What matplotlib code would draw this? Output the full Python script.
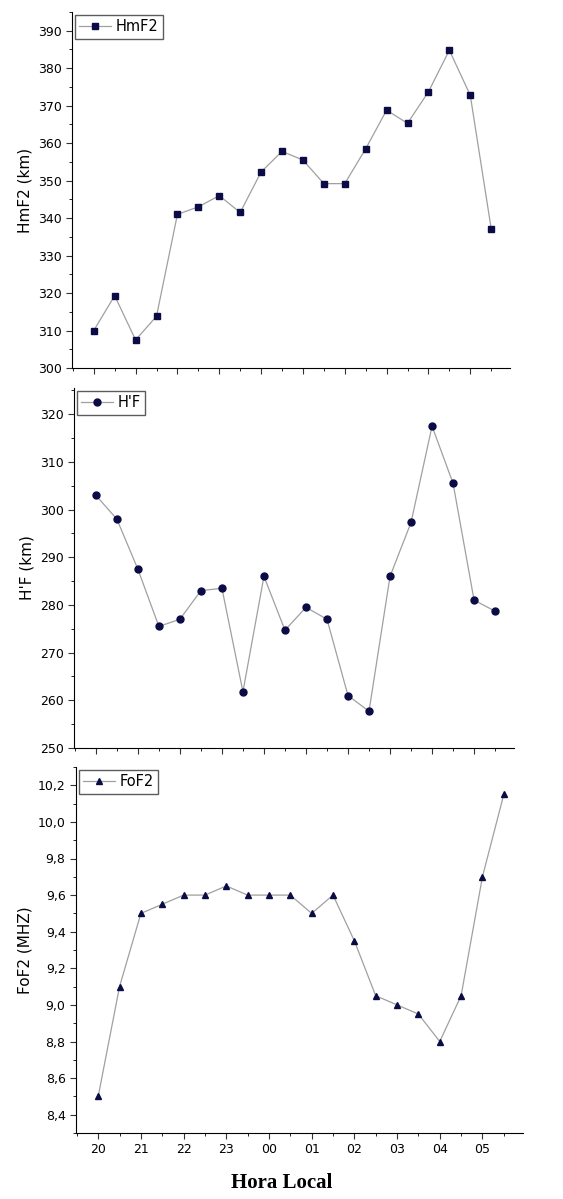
import matplotlib
matplotlib.use("Agg")
import matplotlib.pyplot as plt
from matplotlib.ticker import MultipleLocator, FuncFormatter

# horas locais, de 20h00 a 05h30, a cada meia hora
horas = [20 + 0.5 * i for i in range(20)]
rotulos_horas = ["20", "21", "22", "23", "00", "01", "02", "03", "04", "05"]

hmf2 = [310, 319.3, 307.5, 313.8, 341, 343, 346, 341.5, 352.3, 357.8,
        355.5, 349.2, 349.2, 358.5, 368.8, 365.3, 373.7, 384.8, 372.8, 337.2]
hlf = [303, 298, 287.5, 275.5, 277, 283, 283.5, 261.8, 286, 274.7,
       279.5, 277, 261, 257.7, 286, 297.3, 317.5, 305.5, 281, 278.7]
fof2 = [8.5, 9.1, 9.5, 9.55, 9.6, 9.6, 9.65, 9.6, 9.6, 9.6,
        9.5, 9.6, 9.35, 9.05, 9.0, 8.95, 8.8, 9.05, 9.7, 10.15]

W, H = 563, 1199
fig = plt.figure(figsize=(W / 100, H / 100), dpi=100)

paineis = [
    (hmf2, "s", "HmF2", "HmF2 (km)", (300, 395), 10, 5, [72, 12, 510, 368], "{:.0f}"),
    (hlf, "o", "H'F", "H'F (km)", (250, 325.5), 10, 5, [74, 388, 514, 748], "{:.0f}"),
    (fof2, "^", "FoF2", "FoF2 (MHZ)", (8.3, 10.3), 0.2, 0.1, [76, 767, 523, 1133], "{:.1f}"),
]

for i, (valores, marcador, nome, rotulo, ylim, maior, menor, caixa, fmt) in enumerate(paineis):
    x0, y0, x1, y1 = caixa
    ax = fig.add_axes([x0 / W, 1 - y1 / H, (x1 - x0) / W, (y1 - y0) / H])
    ax.plot(horas, valores, color="#a0a0a0", lw=0.9, marker=marcador,
            markersize=5 if marcador != "s" else 4.5, markerfacecolor="#0b0b45",
            markeredgecolor="#0b0b45", label=nome)
    ax.set_xlim(19.48, 29.95)
    ax.set_ylim(*ylim)
    ax.yaxis.set_major_locator(MultipleLocator(maior))
    ax.yaxis.set_minor_locator(MultipleLocator(menor))
    ax.yaxis.set_major_formatter(FuncFormatter(lambda v, p, f=fmt: f.format(v).replace(".", ",")))
    ax.set_xticks(range(20, 30))
    ax.xaxis.set_minor_locator(MultipleLocator(0.5))
    if i == 2:
        ax.set_xticklabels(rotulos_horas)
    else:
        ax.set_xticklabels([])
    ax.spines["top"].set_visible(False)
    ax.spines["right"].set_visible(False)
    ax.tick_params(direction="out", labelsize=9, length=4, color="#333333")
    ax.tick_params(which="minor", direction="out", length=2.5)
    ax.set_ylabel(rotulo, fontsize=11)
    leg = ax.legend(loc="upper left", fontsize=10.5, frameon=True, fancybox=False,
                    borderaxespad=0.2, handlelength=2.2, handletextpad=0.3,
                    borderpad=0.3)
    leg.get_frame().set_edgecolor("#333333")
    leg.get_frame().set_linewidth(1.0)

fig.text(0.5, 1 - 1183 / H, "Hora Local", ha="center", va="center",
         family="Liberation Serif", fontweight="bold", fontsize=15)

fig.savefig("out.png", dpi=100)
